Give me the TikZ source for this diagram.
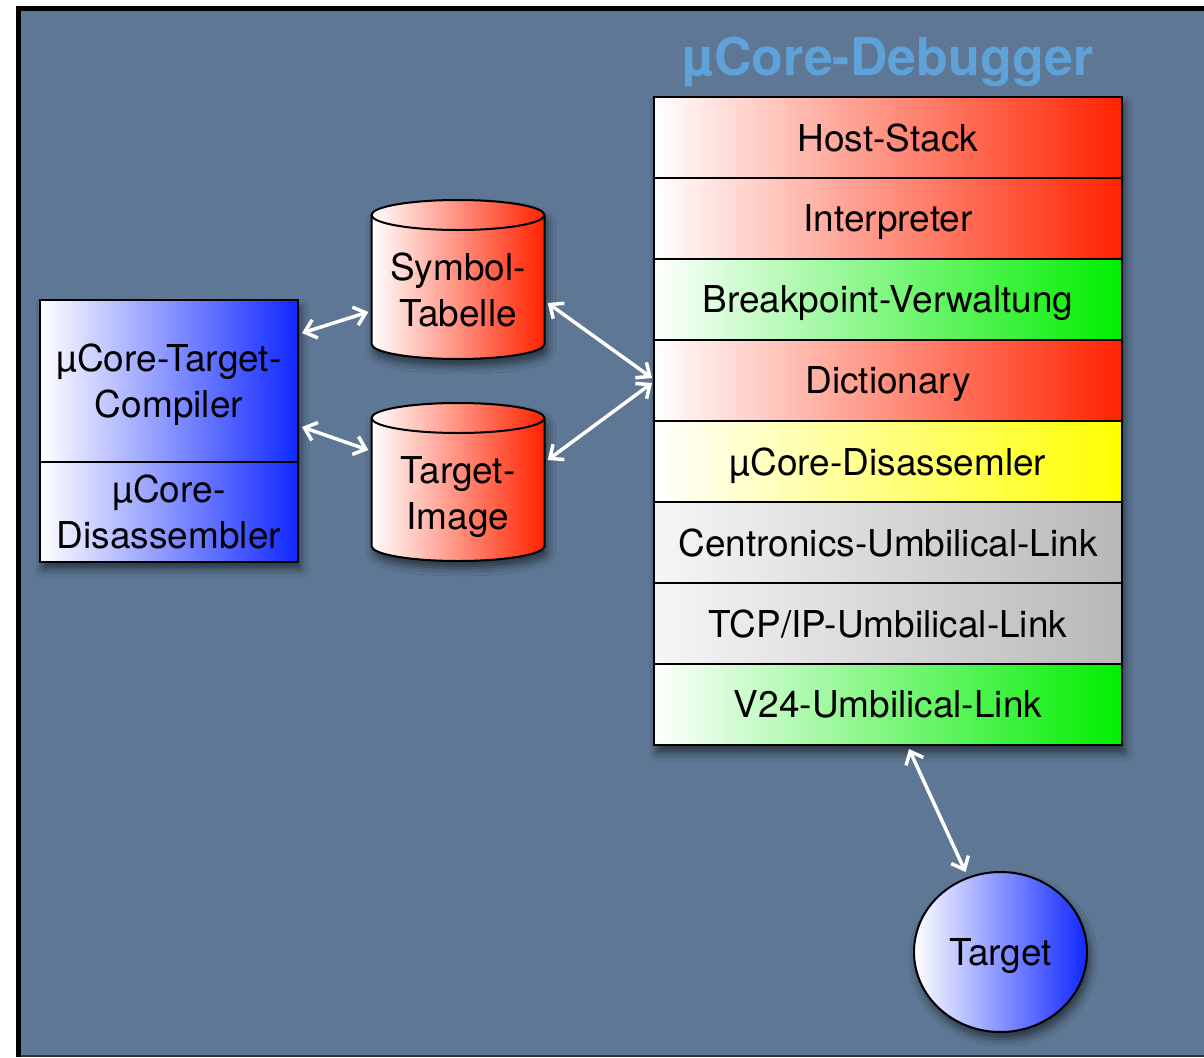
\documentclass[tikz,border=0pt]{standalone}
\usepackage{fontspec}
\setmainfont{TeX Gyre Heros}
\usetikzlibrary{arrows.meta,shadows.blur,shapes.geometric,calc}

\definecolor{slate}{RGB}{93,119,148}
\definecolor{titleblue}{RGB}{95,162,218}
\definecolor{hotred}{RGB}{255,34,0}
\definecolor{brightgreen}{RGB}{0,238,0}
\definecolor{brightyellow}{RGB}{255,255,0}
\definecolor{deepblue}{RGB}{16,40,255}
\definecolor{palegrey}{RGB}{246,246,246}
\definecolor{midgrey}{RGB}{184,184,184}

% cylinder: #1 = x centre, #2 = y of top rim centre, #3 = y of bottom rim centre
\newcommand{\drum}[3]{%
  \path[softshadow]
    (#1-86.5,#2) -- (#1-86.5,#3)
    arc[start angle=180,end angle=360,x radius=86.5pt,y radius=15pt]
    -- (#1+86.5,#2)
    arc[start angle=0,end angle=180,x radius=86.5pt,y radius=15pt] -- cycle;
  \draw[line width=2pt,left color=white,right color=hotred]
    (#1-86.5,#2) -- (#1-86.5,#3)
    arc[start angle=180,end angle=360,x radius=86.5pt,y radius=15pt]
    -- (#1+86.5,#2)
    arc[start angle=0,end angle=180,x radius=86.5pt,y radius=15pt] -- cycle;
  \draw[line width=2pt] (#1-86.5,#2)
    arc[start angle=180,end angle=360,x radius=86.5pt,y radius=15pt];
}

\begin{document}
\begin{tikzpicture}[x=1pt,y=1pt,
  softshadow/.style={blur shadow={shadow xshift=3pt,shadow yshift=-7pt,
      shadow blur radius=8pt,shadow opacity=55}},
  lbl/.style={font=\fontsize{37}{46}\selectfont,align=center,text=black,
      inner sep=0pt,text depth=0pt},
  layer/.style={lbl,draw=black,line width=2pt,minimum width=468pt,minimum height=81pt},
  redrow/.style={layer,left color=white,right color=hotred},
  greenrow/.style={layer,left color=white,right color=brightgreen},
  yellowrow/.style={layer,left color=white,right color=brightyellow},
  greyrow/.style={layer,left color=palegrey,right color=midgrey},
  bluebox/.style={lbl,draw=black,line width=2pt,minimum width=258pt,
      left color=white,right color=deepblue},
  conn/.style={draw=white,line width=3.5pt,
      arrows={Straight Barb[length=11pt,width=19pt]-Straight Barb[length=11pt,width=19pt]}}
]
\useasboundingbox (0,0) rectangle (1204,-1057);

% frame and slate background
\fill[white] (0,0) rectangle (1204,-1057);
\fill[black] (16,-6) rectangle (1204,-1057);
\fill[slate!45!black] (21,-11) rectangle (1204,-1057);
\fill[slate] (21,-11) rectangle (1204,-1055);

% title
\node[font=\bfseries\fontsize{52}{60}\selectfont,text=titleblue,anchor=base,inner sep=0pt]
  (title) at (888,-75) {µCore-Debugger};

% debugger layer stack
\path[softshadow] (654,-97) rectangle (1122,-746);
\node[redrow]    (host) at (888,-137.5) {Host-Stack};
\node[redrow]    (interp) at (888,-218.5) {Interpreter};
\node[greenrow]  (brk) at (888,-299.5) {Breakpoint-Verwaltung};
\node[redrow]    (dict) at (888,-380.5) {Dictionary};
\node[yellowrow] (disasm) at (888,-461.5) {µCore-Disassemler};
\node[greyrow]   (centr) at (888,-542.5) {Centronics-Umbilical-Link};
\node[greyrow]   (tcp) at (888,-623.5) {TCP/IP-Umbilical-Link};
\node[greenrow]  (v24) at (888,-704.5) {V24-Umbilical-Link};

% compiler / disassembler block
\path[softshadow] (40,-300) rectangle (298,-562);
\node[bluebox,minimum height=162pt] (comp) at (169,-381) {µCore-Target-\\Compiler};
\node[bluebox,minimum height=100pt] (dis) at (169,-512) {µCore-\\Disassembler};

% data stores
\drum{458}{-215}{-344}
\node[lbl,minimum width=173pt,minimum height=140pt] (sym) at (458,-290) {Symbol-\\Tabelle};
\drum{458}{-418}{-546}
\node[lbl,minimum width=173pt,minimum height=140pt] (img) at (458,-493) {Target-\\Image};

% target
\node[lbl,ellipse,draw=black,line width=2pt,minimum width=173pt,minimum height=160pt,
      left color=white,right color=deepblue,softshadow] (tgt) at (1000.5,-952) {Target};

% connectors
\draw[conn] ([shift={(3,48)}]comp.east) -- ([shift={(-3,-22)}]sym.west);
\draw[conn] ([shift={(3,-46)}]comp.east) -- ([shift={(-3,43)}]img.west);
\draw[conn] ([shift={(3,-13)}]sym.east) -- ([shift={(-1,2.5)}]dict.west);
\draw[conn] ([shift={(3,33)}]img.east) -- ([shift={(-1,-2.5)}]dict.west);
\draw[conn] ([shift={(21,-3)}]v24.south) -- ([shift={(-35,-1)}]tgt.north);
\end{tikzpicture}
\end{document}
